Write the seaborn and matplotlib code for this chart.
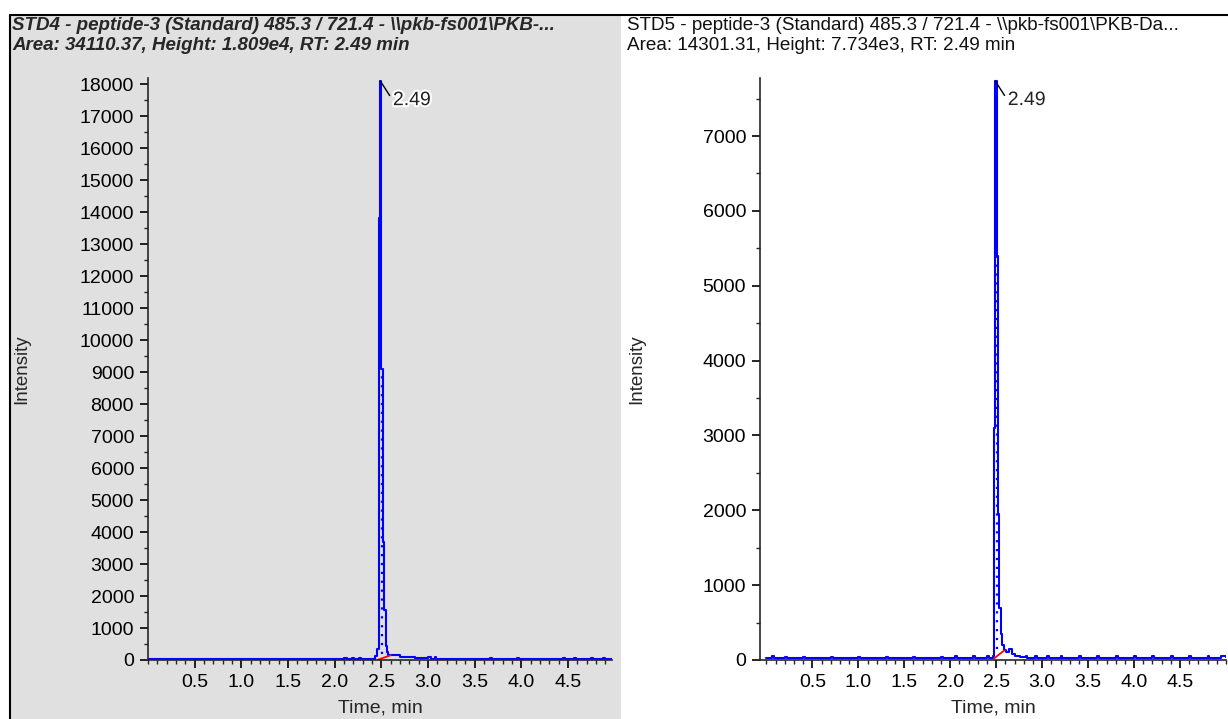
import matplotlib
matplotlib.use("Agg")
import matplotlib.pyplot as plt
import matplotlib.patheffects as pe
from matplotlib import font_manager
from matplotlib.patches import Rectangle
from matplotlib.lines import Line2D
from matplotlib.ticker import MultipleLocator
import seaborn as sns
import pandas as pd

# ---------------- data ----------------
title_std4 = "STD4 - peptide-3 (Standard) 485.3 / 721.4 - \\\\pkb-fs001\\PKB-..."
info_std4 = "Area: 34110.37, Height: 1.809e4, RT: 2.49 min"
title_std5 = "STD5 - peptide-3 (Standard) 485.3 / 721.4 - \\\\pkb-fs001\\PKB-Da..."
info_std5 = "Area: 14301.31, Height: 7.734e3, RT: 2.49 min"

t_std4 = [0.00, 2.10, 2.13, 2.18, 2.21, 2.26, 2.28, 2.43, 2.455, 2.47, 2.485, 2.50,
          2.515, 2.53, 2.545, 2.56, 2.575, 2.70, 2.86, 3.00, 3.03, 3.07, 3.09, 3.66,
          3.68, 3.95, 3.97, 4.45, 4.47, 4.56, 4.58, 4.75, 4.77, 4.87, 4.89, 4.97]
y_std4 = [20, 60, 20, 60, 20, 55, 20, 120, 350, 13800, 18090, 9100,
          3700, 1550, 450, 250, 170, 80, 50, 90, 40, 80, 30, 70,
          30, 70, 30, 70, 30, 70, 30, 65, 30, 65, 30, 30]

t_std5 = [0.00, 0.06, 0.08, 0.20, 0.22, 0.40, 0.42, 0.70, 0.72, 1.00, 1.02, 1.30,
          1.32, 1.60, 1.62, 1.90, 1.92, 2.05, 2.07, 2.25, 2.27, 2.40, 2.42, 2.46,
          2.475, 2.49, 2.505, 2.52, 2.535, 2.55, 2.565, 2.58, 2.61, 2.64, 2.67, 2.70,
          2.76, 2.82, 2.84, 2.92, 2.94, 3.05, 3.07, 3.20, 3.22, 3.40, 3.42, 3.60,
          3.62, 3.80, 3.82, 4.00, 4.02, 4.20, 4.22, 4.40, 4.42, 4.60, 4.62, 4.80,
          4.82, 4.95, 5.00]
y_std5 = [25, 55, 25, 45, 25, 45, 25, 40, 25, 45, 25, 40,
          25, 45, 25, 40, 25, 50, 25, 55, 25, 50, 25, 60,
          3100, 7734, 5400, 1950, 700, 350, 200, 140, 110, 150, 80, 55,
          40, 60, 30, 55, 30, 50, 30, 55, 30, 50, 30, 55,
          30, 50, 30, 55, 30, 50, 30, 55, 30, 60, 30, 55,
          30, 55, 40]

dot_t_std4 = [2.51, 2.51]
dot_y_std4 = [200, 9100]
dot_t_std5 = [2.51, 2.51]
dot_y_std5 = [150, 5400]

base_t_std4 = [2.455, 2.60]
base_y_std4 = [0, 150]
base_t_std5 = [2.475, 2.59]
base_y_std5 = [20, 130]

rt_label = "2.49"
rt_value = 2.49
peak_std4 = 18090
peak_std5 = 7734

# ---------------- style ----------------
sns.set_theme(style="ticks")
plt.rcParams["font.family"] = ["Liberation Sans", "DejaVu Sans"]
plt.rcParams["axes.linewidth"] = 1.2

names = {f.name for f in font_manager.fontManager.ttflist}
if "Liberation Sans Narrow" in names:
    narrow_family = ["Liberation Sans Narrow", "Liberation Sans"]
    narrow_size = 14.5
else:
    narrow_family = ["Liberation Sans", "DejaVu Sans"]
    narrow_size = 13.5

W, H = 1228, 719
fig = plt.figure(figsize=(W / 100, H / 100), dpi=100)
fig.patch.set_facecolor("white")

# panel backgrounds / borders
fig.add_artist(Rectangle((10 / W, 0), (621 - 10) / W, (H - 15) / H,
                         transform=fig.transFigure, facecolor="#e0e0e0",
                         edgecolor="none", zorder=0))
fig.add_artist(Line2D([10 / W, 1], [1 - 15 / H, 1 - 15 / H], transform=fig.transFigure,
                      color="black", lw=1.5))
fig.add_artist(Line2D([10 / W, 10 / W], [0, 1 - 15 / H], transform=fig.transFigure,
                      color="black", lw=1.5))

# titles
fig.text(12 / W, 1 - 25 / H, title_std4, fontsize=narrow_size, fontweight="bold",
         fontstyle="italic", va="center", ha="left", family=narrow_family)
fig.text(12 / W, 1 - 46 / H, info_std4, fontsize=narrow_size, fontweight="bold",
         fontstyle="italic", va="center", ha="left", family=narrow_family)
fig.text(627 / W, 1 - 25 / H, title_std5, fontsize=13.6, va="center", ha="left",
         color="#111111")
fig.text(627 / W, 1 - 46 / H, info_std5, fontsize=13.6, va="center", ha="left",
         color="#111111")

FS = 14


def panel(rect, t, y, dt, dy, bt, by, peak, ylim_top, xlim):
    ax = fig.add_axes(rect)
    ax.patch.set_alpha(0)
    df = pd.DataFrame({"Time": t, "Intensity": y})
    sns.lineplot(data=df, x="Time", y="Intensity", ax=ax, color="#0000ff",
                 lw=1.5, drawstyle="steps-post", estimator=None, sort=False)
    dfd = pd.DataFrame({"Time": dt, "Intensity": dy})
    sns.lineplot(data=dfd, x="Time", y="Intensity", ax=ax, color="#0000ff",
                 lw=1.6, linestyle=(0, (1, 3)), estimator=None, sort=False)
    dfb = pd.DataFrame({"Time": bt, "Intensity": by})
    sns.lineplot(data=dfb, x="Time", y="Intensity", ax=ax, color="#ff0000",
                 lw=1.3, estimator=None, sort=False)
    ax.set_xlim(*xlim)
    ax.set_ylim(0, ylim_top)
    sns.despine(ax=ax)
    ticks = [0.5, 1.0, 1.5, 2.0, 2.5, 3.0, 3.5, 4.0, 4.5]
    ax.set_xticks(ticks)
    ax.set_xticklabels([f"{v:.1f}" for v in ticks])
    ax.xaxis.set_minor_locator(MultipleLocator(0.1))
    ax.yaxis.set_major_locator(MultipleLocator(1000))
    ax.yaxis.set_minor_locator(MultipleLocator(500))
    ax.tick_params(axis="both", which="major", length=6, width=1.2, labelsize=FS,
                   colors="black", direction="out", pad=4)
    ax.tick_params(axis="both", which="minor", length=3, width=1.0, direction="out")
    ax.set_xlabel("Time, min", fontsize=FS, labelpad=6)
    ax.set_ylabel("Intensity", fontsize=FS - 0.5)
    ax.annotate(rt_label, xy=(rt_value, peak), xytext=(9, -14),
                textcoords="offset points", fontsize=FS, color="#222222",
                ha="left", va="center",
                arrowprops=dict(arrowstyle="-", color="black", lw=1.0,
                                shrinkA=0, shrinkB=0, relpos=(0, 0.5)),
                path_effects=[pe.withStroke(linewidth=3, foreground="white")])
    return ax


ax1 = panel([148 / W, 59 / H, 464 / W, 582 / H], t_std4, y_std4, dot_t_std4, dot_y_std4,
            base_t_std4, base_y_std4, peak_std4, 18190, (0.0, 4.97))
ax2 = panel([760 / W, 59 / H, 466 / W, 582 / H], t_std5, y_std5, dot_t_std5, dot_y_std5,
            base_t_std5, base_y_std5, peak_std5, 7775, (-0.07, 5.0))

ax1.yaxis.set_label_coords((30 - 148) / 464, 0.5)
ax2.yaxis.set_label_coords((645 - 760) / 466, 0.5)

fig.savefig("out.png", dpi=100)
